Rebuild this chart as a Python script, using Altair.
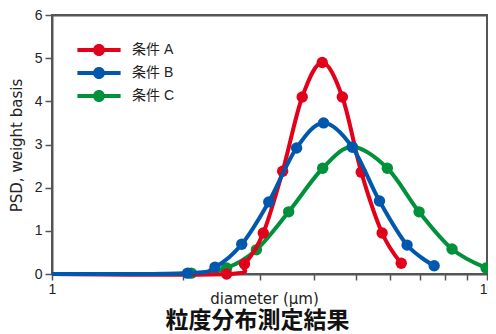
import altair as alt
import pandas as pd

# ---- data ----
series_names = ["条件 A", "条件 B", "条件 C"]
series_colors = ["#E2001A", "#0058AE", "#00913A"]

start_x = 1.0  # flat baseline start (line only, no marker)

a_x = [2.52, 2.77, 3.06, 3.39, 3.76, 4.18, 4.65, 5.14, 5.74, 6.35]
a_y = [0.00, 0.23, 0.95, 2.38, 4.10, 4.90, 4.10, 2.36, 0.95, 0.25]

b_x = [2.05, 2.37, 2.73, 3.15, 3.65, 4.21, 4.90, 5.66, 6.55, 7.56]
b_y = [0.02, 0.16, 0.69, 1.67, 2.92, 3.50, 2.94, 1.69, 0.67, 0.19]

c_x = [2.09, 2.52, 2.95, 3.50, 4.19, 4.90, 5.90, 6.98, 8.31, 9.95]
c_y = [0.02, 0.14, 0.56, 1.44, 2.45, 2.94, 2.45, 1.44, 0.58, 0.14]

x_ticks = [1, 2, 3, 4, 5, 6, 7, 8, 9, 10]
y_ticks = [0, 1, 2, 3, 4, 5, 6]
x_min, x_max = 1, 10
y_min, y_max = 0, 6

rows = []
for name, xs, ys in zip(series_names, [a_x, b_x, c_x], [a_y, b_y, c_y]):
    rows.append({"series": name, "d": start_x, "psd": 0.0, "marker": False})
    for x, y in zip(xs, ys):
        rows.append({"series": name, "d": x, "psd": y, "marker": True})
df = pd.DataFrame(rows)

W, H = 435, 259
LAB_FONT = "Liberation Sans, Arial, Noto Sans CJK JP"
TIT_FONT = "DejaVu Sans, Noto Sans CJK JP"
CJK = "Noto Sans CJK JP"
FRAME = "#555555"
TEXT = "#222222"

x_scale = alt.Scale(type="log", domain=[x_min, x_max], nice=False)
y_scale = alt.Scale(domain=[y_min, y_max], nice=False)

x_enc = alt.X(
    "d:Q",
    scale=x_scale,
    axis=alt.Axis(
        values=x_ticks,
        labelExpr="datum.value == 1 || datum.value == 10 ? datum.label : ''",
        labelFlush=False,
        title="diameter (μm)",
        titleBaseline="alphabetic",
        titleAlign="center",
        titleX=212,
        titleY=29,
        grid=False,
        tickSize=6,
        labelPadding=2,
    ),
)
y_enc = alt.Y(
    "psd:Q",
    scale=y_scale,
    axis=alt.Axis(values=y_ticks, title="PSD, weight basis", grid=False,
                  tickSize=7, labelPadding=3,
                  titleBaseline="alphabetic", titleAlign="center",
                  titleX=-31, titleY=130),
)
color_scale = alt.Scale(domain=series_names, range=series_colors)

legend_path = ("M-3.6,-0.32 L3.6,-0.32 L3.6,0.32 L-3.6,0.32 Z "
               "M1,0 A1,1 0 1,1 -1,0 A1,1 0 1,1 1,0 Z")
legend = alt.Legend(
    title=None,
    orient="none",
    legendX=40,
    legendY=28,
    symbolType=legend_path,
    symbolSize=144,
    symbolStrokeWidth=0,
    symbolOpacity=1,
    labelOffset=26,
    rowPadding=9,
    labelFont=LAB_FONT,
    labelFontSize=14,
    labelColor=TEXT,
)

layers = []
for name in ["条件 C", "条件 A", "条件 B"]:
    sub = df[df.series == name]
    line = alt.Chart(sub).mark_line(interpolate="cardinal", strokeWidth=4).encode(
        x=x_enc, y=y_enc,
        color=alt.Color("series:N", scale=color_scale, legend=legend),
    )
    pts = alt.Chart(sub[sub.marker]).mark_point(filled=True, size=130, opacity=1).encode(
        x=x_enc, y=y_enc,
        color=alt.Color("series:N", scale=color_scale, legend=legend),
    )
    layers += [line, pts]
main = alt.layer(*layers)

# plot frame: extra top and right axes showing only their domain lines
frame_df = pd.DataFrame({"fx": [x_min, x_max], "fy": [y_min, y_max]})
frame_axis = dict(labels=False, ticks=False, title=None, grid=False, domain=True,
                  domainColor=FRAME, domainWidth=2)
frame_layer = alt.Chart(frame_df).mark_point(opacity=0).encode(
    x=alt.X("fx:Q", scale=x_scale, axis=alt.Axis(orient="top", **frame_axis)),
    y=alt.Y("fy:Q", scale=y_scale, axis=alt.Axis(orient="right", **frame_axis)),
)

chart = alt.layer(main, frame_layer).resolve_axis(
    x="independent", y="independent"
).properties(
    width=W,
    height=H,
    background="white",
    autosize=alt.AutoSizeParams(type="none"),
    padding={"left": 44, "top": 7, "right": 1, "bottom": 60},
    title=alt.TitleParams(
        "粒度分布測定結果", orient="bottom", anchor="middle",
        font=CJK, fontSize=23, fontWeight="bold",
        color="#111111", dx=-12, offset=4,
    ),
).configure_view(
    stroke=FRAME, strokeWidth=2
).configure_axis(
    domainColor=FRAME, domainWidth=2, tickColor=FRAME, tickWidth=1.5,
    labelFont=LAB_FONT, labelFontSize=14, labelColor=TEXT,
    titleFont=TIT_FONT, titleFontSize=15, titleFontWeight="normal", titleColor=TEXT,
)

chart.save("out.html", embed_options={"renderer": "svg", "actions": False})
